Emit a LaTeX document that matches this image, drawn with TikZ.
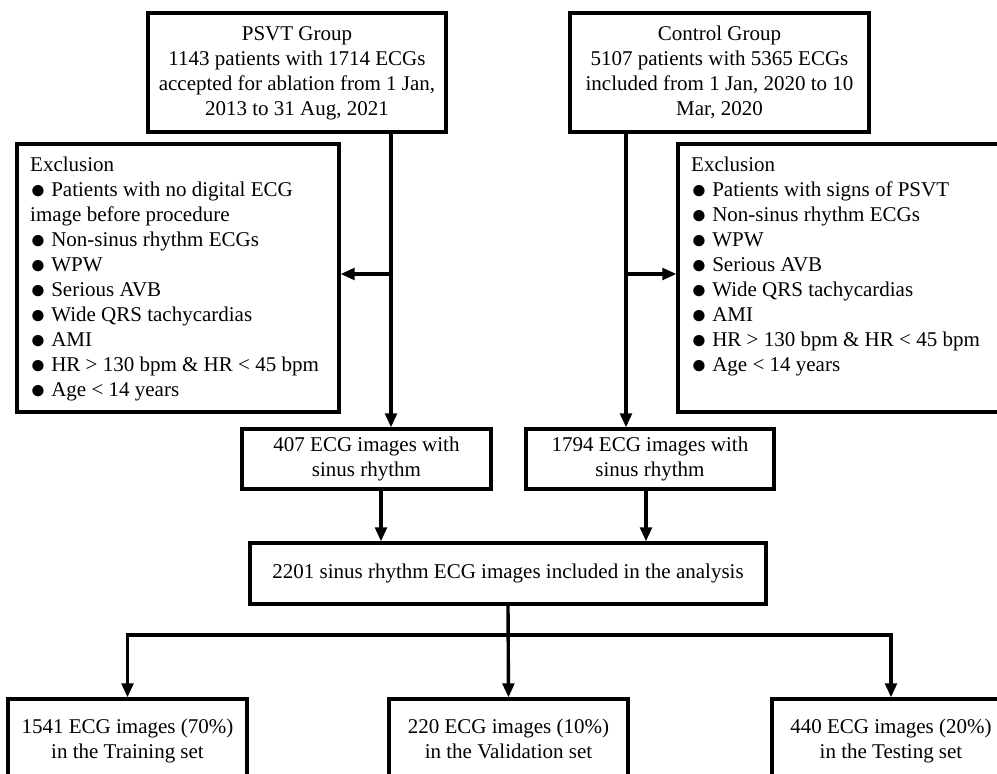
\documentclass[tikz,border=0pt]{standalone}
\usepackage{fontspec}
\setmainfont{Liberation Serif}
\usetikzlibrary{arrows.meta}
\newcommand{\blt}{\raisebox{-1.3pt}{\scalebox{1.25}{●}}\ }
\begin{document}
\begin{tikzpicture}[x=1pt,y=-1pt,
  txt/.style={font=\fontsize{21}{25}\selectfont},
  box/.style={txt,draw,line width=3.1pt,inner sep=0pt,align=center},
  exbox/.style={draw,line width=3.1pt,inner sep=0pt,minimum width=322pt,minimum height=268pt},
  extxt/.style={txt,inner sep=0pt,align=left,anchor=north west},
  ln/.style={line width=3.4pt},
  arr/.style={line width=3.4pt,-{Triangle[length=14pt,width=11.5pt]}}]
\useasboundingbox (0,0) rectangle (997,774);

\node[box,minimum width=298pt,minimum height=119pt] (psvt) at (297,72.5)
  {\strut PSVT Group\\1143 patients with 1714 ECGs\\accepted for ablation from 1 Jan,\\2013 to 31 Aug, 2021\strut};
\node[box,minimum width=299pt,minimum height=119pt] (ctrl) at (719.5,72.5)
  {\strut Control Group\\5107 patients with 5365 ECGs\\included from 1 Jan, 2020 to 10\\Mar, 2020\strut};

\node[exbox] (exL) at (178,278) {};
\node[extxt] (exLt) at (30,154)
  {\strut Exclusion\\
   \blt Patients with no digital ECG\\
   image before procedure\\
   \blt Non-sinus rhythm ECGs\\
   \blt WPW\\
   \blt Serious AVB\\
   \blt Wide QRS tachycardias\\
   \blt AMI\\
   \blt HR > 130 bpm \& HR < 45 bpm\\
   \blt Age < 14 years};
\node[exbox] (exR) at (839,278) {};
\node[extxt] (exRt) at (691,154)
  {\strut Exclusion\\
   \blt Patients with signs of PSVT\\
   \blt Non-sinus rhythm ECGs\\
   \blt WPW\\
   \blt Serious AVB\\
   \blt Wide QRS tachycardias\\
   \blt AMI\\
   \blt HR > 130 bpm \& HR < 45 bpm\\
   \blt Age < 14 years};

\node[box,minimum width=249pt,minimum height=60pt] (e407) at (366.5,459)
  {\strut 407 ECG images with\\sinus rhythm\strut};
\node[box,minimum width=248pt,minimum height=60pt] (e1794) at (650,459)
  {\strut 1794 ECG images with\\sinus rhythm\strut};
\node[box,minimum width=516pt,minimum height=61pt] (all) at (508,573.5)
  {\strut 2201 sinus rhythm ECG images included in the analysis};

\node[box,minimum width=239pt,minimum height=83pt] (train) at (127.5,740.5)
  {\strut 1541 ECG images (70\%)\\in the Training set\strut};
\node[box,minimum width=239pt,minimum height=83pt] (valid) at (508.5,740.5)
  {\strut 220 ECG images (10\%)\\in the Validation set\strut};
\node[box,minimum width=238pt,minimum height=83pt] (test) at (891,740.5)
  {\strut 440 ECG images (20\%)\\in the Testing set\strut};

% connectors
\coordinate (c1) at (391,274);
\coordinate (c2) at (626,274);
\coordinate (c3) at (381,0);
\coordinate (c4) at (646,0);
\coordinate (sp) at (0,635);

\draw[arr] (psvt.south -| c1) -- (e407.north -| c1);
\draw[arr] (c1) -- (c1 -| exL.east);
\draw[arr] (ctrl.south -| c2) -- (e1794.north -| c2);
\draw[arr] (c2) -- (c2 -| exR.west);
\draw[arr] (e407.south -| c3) -- (all.north -| c3);
\draw[arr] (e1794.south -| c4) -- (all.north -| c4);
\draw[arr] (all.south) -- (valid.north);
\draw[ln] ([xshift=-1.7pt]sp -| train.north) -- ([xshift=1.7pt]sp -| test.north);
\draw[arr] ([yshift=-1.7pt]sp -| train.north) -- (train.north);
\draw[arr] ([yshift=-1.7pt]sp -| test.north) -- (test.north);
\end{tikzpicture}
\end{document}
